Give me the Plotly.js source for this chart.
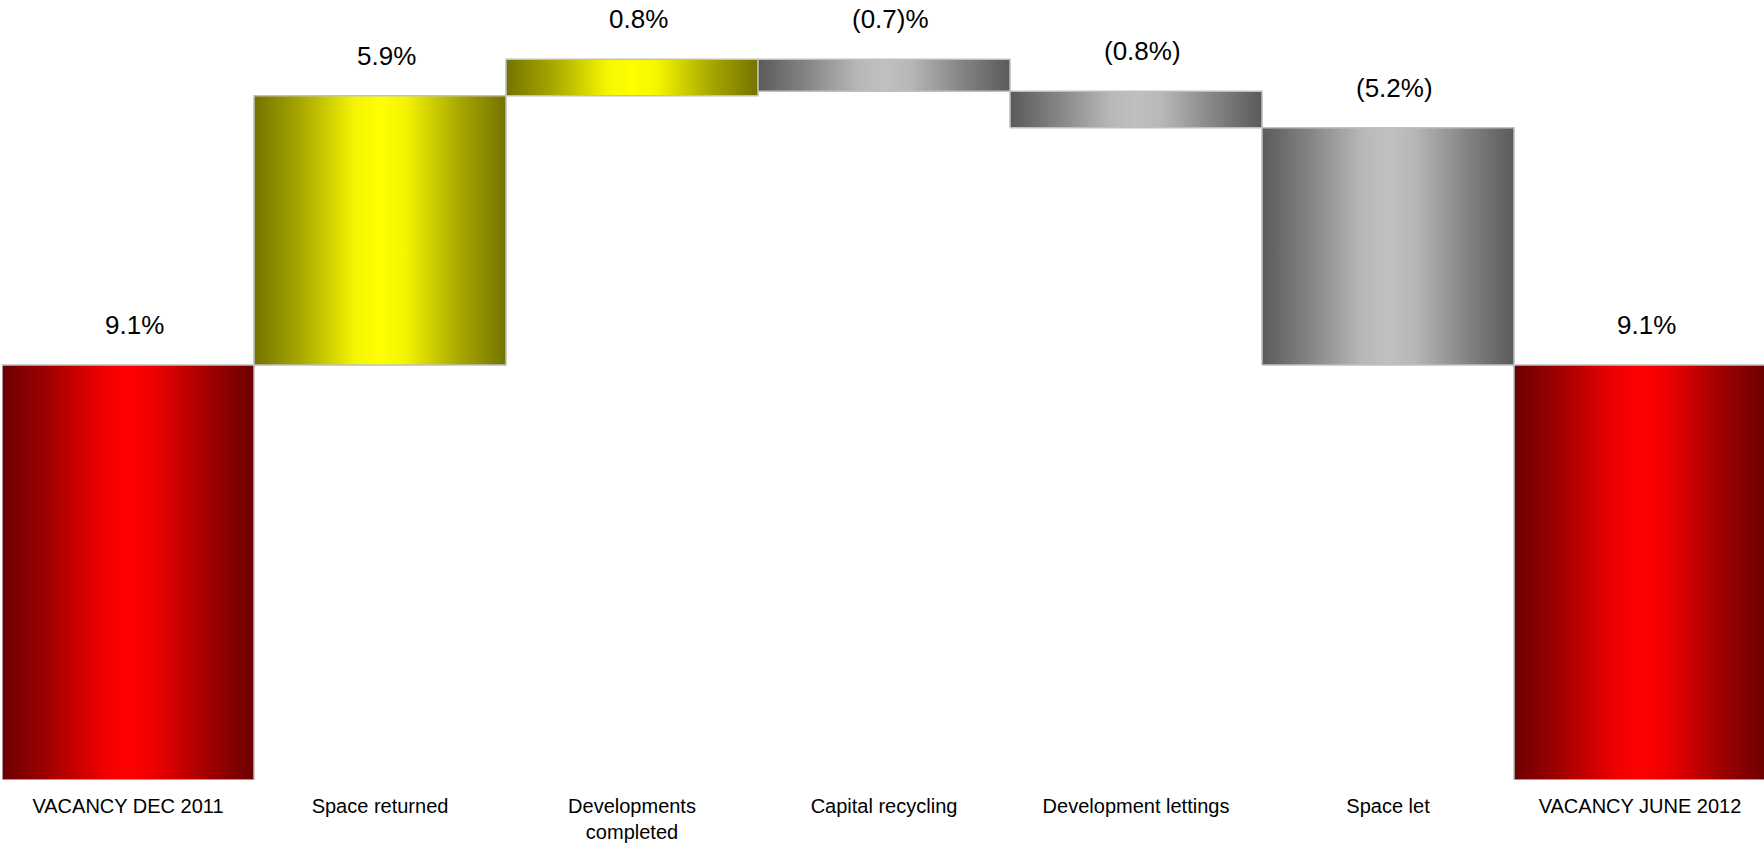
<!DOCTYPE html>
<html>
<head>
<meta charset="utf-8">
<script src="https://cdn.plot.ly/plotly-3.0.1.min.js"></script>
<style>
html, body { margin: 0; padding: 0; background: #ffffff; }
#chart { width: 1764px; height: 845px; }
</style>
</head>
<body>
<div id="chart"></div>
<script>
// ---- data ----
const categories = ["VACANCY DEC 2011", "Space returned", "Developments<br>completed", "Capital recycling", "Development lettings", "Space let", "VACANCY JUNE 2012"];
const values = [9.1, 5.9, 0.8, -0.7, -0.8, -5.2, 9.1];
const measures = ["absolute", "relative", "relative", "relative", "relative", "relative", "total"];
const valueLabels = ["9.1%", "5.9%", "0.8%", "(0.7)%", "(0.8%)", "(5.2%)", "9.1%"];

// ---- styles ----
const gradRed = [[0, "#6c0000"], [0.18, "#a00000"], [0.4, "#f00000"], [0.5, "#ff0000"], [0.6, "#f00000"], [0.82, "#a00000"], [1, "#6c0000"]];
const gradYellow = [[0, "#737300"], [0.18, "#a5a500"], [0.4, "#f5f500"], [0.5, "#ffff00"], [0.6, "#f5f500"], [0.82, "#a5a500"], [1, "#737300"]];
const gradGray = [[0, "#5a5a5a"], [0.18, "#828282"], [0.4, "#b8b8b8"], [0.5, "#c0c0c0"], [0.6, "#b8b8b8"], [0.82, "#828282"], [1, "#5a5a5a"]];
const fontFamily = "Liberation Sans, Arial, Helvetica, sans-serif";

// ---- build waterfall geometry from the data ----
const traces = [];
const annotations = [];
let running = 0;
for (let i = 0; i < categories.length; i++) {
  let lo, hi, scale;
  if (measures[i] === "absolute") {
    lo = 0; hi = values[i]; running = values[i]; scale = gradRed;
  } else if (measures[i] === "total") {
    lo = 0; hi = running; scale = gradRed;
  } else {
    const start = running;
    running = running + values[i];
    lo = Math.min(start, running);
    hi = Math.max(start, running);
    scale = values[i] >= 0 ? gradYellow : gradGray;
  }
  traces.push({
    type: "scatter",
    mode: "lines",
    x: [i - 0.5, i + 0.5, i + 0.5, i - 0.5, i - 0.5],
    y: [lo, lo, hi, hi, lo],
    fill: "toself",
    fillgradient: { type: "horizontal", colorscale: scale },
    line: { color: "#c0c0c0", width: 1.5 },
    hoverinfo: "skip",
    showlegend: false
  });
  annotations.push({
    x: i, y: hi, xref: "x", yref: "y",
    text: valueLabels[i],
    showarrow: false,
    yanchor: "middle",
    yshift: 40,
    xshift: 6,
    font: { family: fontFamily, size: 26, color: "#000000" }
  });
}

const layout = {
  width: 1764,
  height: 845,
  margin: { l: 2, r: 0, t: 0, b: 65 },
  paper_bgcolor: "#ffffff",
  plot_bgcolor: "#ffffff",
  showlegend: false,
  font: { family: fontFamily, color: "#000000" },
  xaxis: {
    range: [-0.5, 6.492],
    tickmode: "array",
    tickvals: categories.map((_, i) => i),
    ticktext: categories,
    tickfont: { family: fontFamily, size: 20, color: "#000000" },
    ticks: "",
    ticklabelstandoff: 12,
    showgrid: false,
    zeroline: false,
    showline: false,
    fixedrange: true
  },
  yaxis: {
    range: [0, 17.1],
    visible: false,
    showgrid: false,
    zeroline: false,
    fixedrange: true
  },
  annotations: annotations
};

Plotly.newPlot("chart", traces, layout, { displayModeBar: false, staticPlot: true });
</script>
</body>
</html>
